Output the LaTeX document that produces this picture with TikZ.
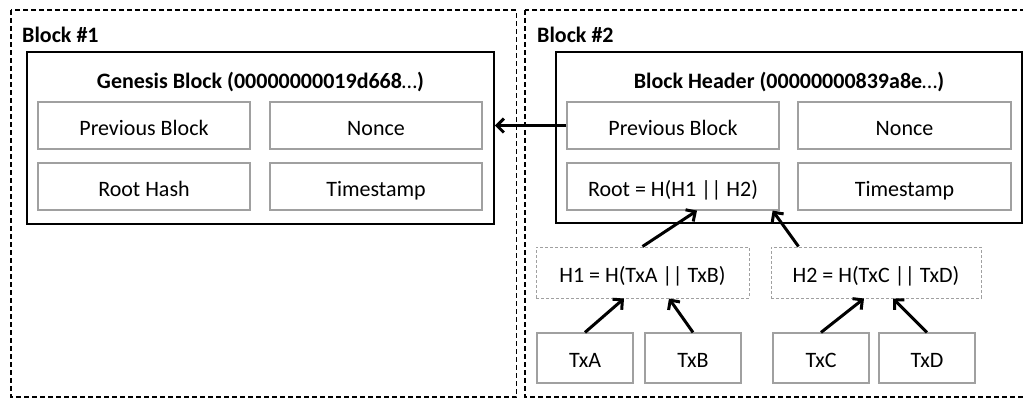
\documentclass[tikz,border=0pt]{standalone}
\usepackage{fontspec}
\setmainfont{Carlito}
\usetikzlibrary{arrows.meta,calc}
\definecolor{boxgray}{RGB}{160,160,160}
\tikzset{
  blockframe/.style={draw=black,line width=1.4pt,dash pattern=on 5pt off 3pt},
  header/.style={draw=black,line width=1.5pt,rectangle,inner sep=0pt},
  txt/.style={font=\fontsize{22}{24}\selectfont,text height=19pt,text depth=0pt},
  field/.style={draw=boxgray,line width=1.2pt,rectangle,inner sep=0pt,minimum width=212pt,minimum height=47pt,txt},
  hashbox/.style={draw=boxgray,line width=1pt,dash pattern=on 3pt off 2pt,rectangle,inner sep=0pt,minimum height=51pt,txt},
  txbox/.style={draw=boxgray,line width=1.2pt,rectangle,inner sep=0pt,minimum width=96pt,minimum height=50pt,txt},
  ttl/.style={font=\fontsize{22}{24}\selectfont\bfseries,inner sep=0pt,text height=19pt,text depth=0pt},
  arr/.style={line width=3pt,-{Straight Barb[length=7pt,width=14pt,line width=3pt]}}
}
\begin{document}
\begin{tikzpicture}[x=1pt,y=-1pt]
\useasboundingbox (0,0) rectangle (1023,399);
% outer dashed blocks
\draw[blockframe] (11,10) rectangle (516.5,397);
\draw[blockframe] (525,10) rectangle (1040,397);
\node[ttl,anchor=west] (lb1) at (22,33) {Block \#1};
\node[ttl,anchor=west] (lb2) at (537,33) {Block \#2};
% genesis block
\node[header,minimum width=467pt,minimum height=172pt] (gen) at (260.5,138) {};
\node[ttl] (gtitle) at (260.5,79) {Genesis Block (00000000019d668{\mdseries…})};
\node[field] (gprev) at (144,125.5) {Previous Block};
\node[field] (gnonce) at (376,125.5) {Nonce};
\node[field] (groot) at (144,186.5) {Root Hash};
\node[field] (gtime) at (376,186.5) {Timestamp};
% block 2 header
\node[header,minimum width=466pt,minimum height=171pt] (hdr) at (789,137.5) {};
\node[ttl] (htitle) at (789,79) {Block Header (00000000839a8e{\mdseries…})};
\node[field] (bprev) at (673,125.5) {Previous Block};
\node[field,minimum width=213pt] (bnonce) at (904.5,125.5) {Nonce};
\node[field] (broot) at (673,186.5) {Root = H(H1 || H2)};
\node[field,minimum width=213pt] (btime) at (904.5,186.5) {Timestamp};
% hashes
\node[hashbox,minimum width=213pt] (h1) at (642.5,272.5) {H1 = H(TxA || TxB)};
\node[hashbox,minimum width=210pt] (h2) at (876,272.5) {H2 = H(TxC || TxD)};
% transactions
\node[txbox] (txa) at (585,358) {TxA};
\node[txbox] (txb) at (693,358) {TxB};
\node[txbox] (txc) at (821,358) {TxC};
\node[txbox] (txd) at (927,358) {TxD};
% arrows
\draw[arr] (bprev.west) -- (bprev.west -| gen.east);
\draw[arr] (h1.north) -- ([xshift=24pt]broot.south);
\draw[arr] ([xshift=28pt]h2.north west) -- ([xshift=-7pt]broot.south east);
\draw[arr] (txa.north) -- ([xshift=-18.5pt]h1.south);
\draw[arr] (txb.north) -- ([xshift=26.5pt]h1.south);
\draw[arr] (txc.north) -- ([xshift=-12pt]h2.south);
\draw[arr] (txd.north) -- ([xshift=17pt]h2.south);
\end{tikzpicture}
\end{document}
